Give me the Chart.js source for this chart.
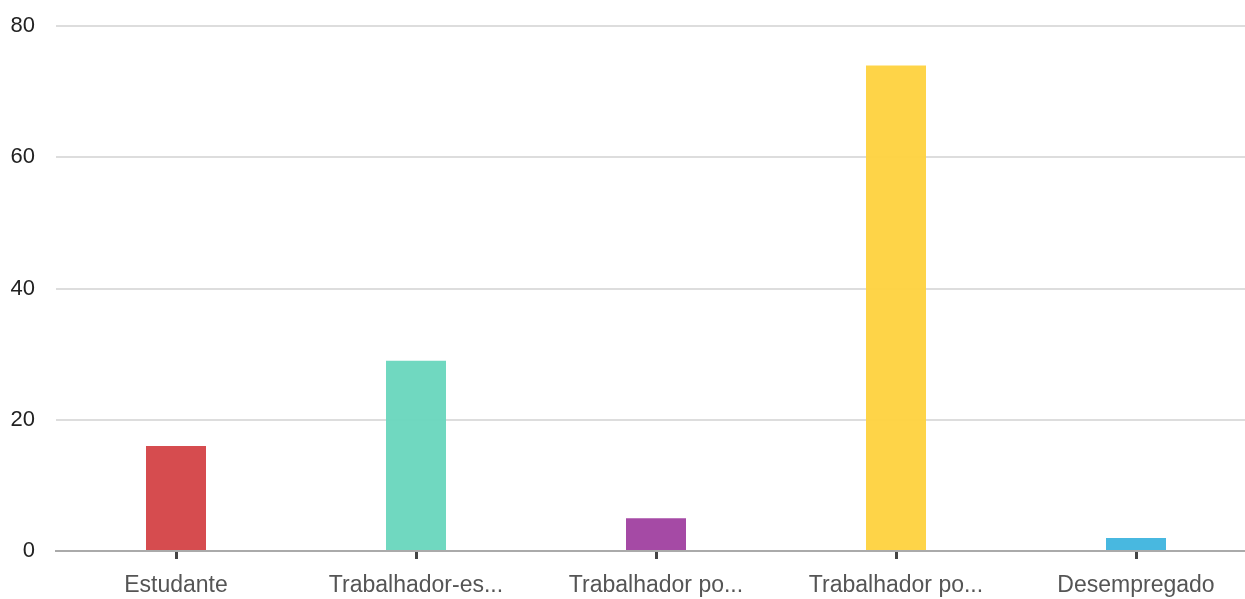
<!DOCTYPE html>
<html>
<head>
<meta charset="utf-8">
<script src="https://cdn.jsdelivr.net/npm/chart.js@4"></script>
<style>
html,body{margin:0;padding:0;background:#fff;overflow:hidden;width:1245px;height:599px;}
#wrap{width:1260px;height:599px;}
</style>
</head>
<body>
<div id="wrap"><canvas id="c" width="1260" height="599"></canvas></div>
<script>
const categories = ["Estudante", "Trabalhador-es...", "Trabalhador po...", "Trabalhador po...", "Desempregado"];
const values = [16, 29, 5, 74, 2];
const barColors = ["rgba(212,66,70,0.95)", "rgba(104,214,189,0.95)", "rgba(160,64,160,0.95)", "rgba(254,210,62,0.95)", "rgba(62,180,222,0.95)"];
const yTicks = [0, 20, 40, 60, 80];

new Chart(document.getElementById('c'), {
  type: 'bar',
  data: {
    labels: categories,
    datasets: [{
      data: values,
      backgroundColor: barColors,
      borderWidth: 0,
      barPercentage: 0.25,
      categoryPercentage: 1
    }]
  },
  options: {
    responsive: false,
    animation: false,
    layout: { padding: { top: 26, right: 4, left: 0, bottom: 0 } },
    plugins: { legend: { display: false }, tooltip: { enabled: false } },
    scales: {
      x: {
        grid: { offset: false, drawOnChartArea: false, drawTicks: true, tickLength: 8, tickWidth: 3, tickColor: '#444' },
        border: { display: true, color: '#aaa', width: 2 },
        ticks: { color: '#555', font: { family: 'Liberation Sans, Arial, sans-serif', size: 23 }, padding: 13, maxRotation: 0, autoSkip: false },
        afterFit: (s) => { s.height = 48; s.paddingLeft = 0; s.paddingRight = 0; }
      },
      y: {
        min: 0, max: 80,
        afterBuildTicks: (s) => { s.ticks = yTicks.map(v => ({ value: v })); },
        grid: { color: '#ddd', lineWidth: 2, drawTicks: false },
        border: { display: false },
        ticks: { color: '#222', font: { family: 'Liberation Sans, Arial, sans-serif', size: 22 }, padding: 21 },
        afterFit: (s) => { s.width = 56; s.paddingTop = 0; s.paddingBottom = 0; }
      }
    }
  }
});
</script>
</body>
</html>
